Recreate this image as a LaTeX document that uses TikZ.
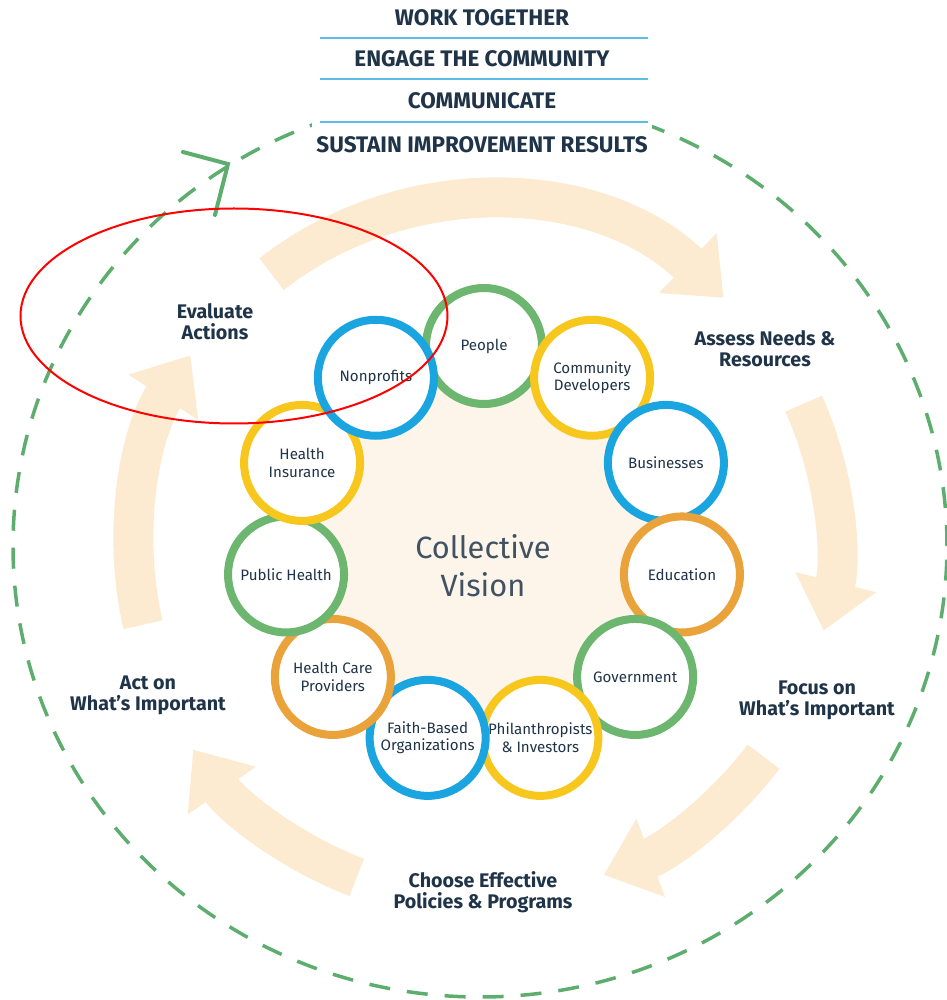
\documentclass[tikz,border=0pt]{standalone}
\usepackage{fontspec}
\setmainfont{Fira Sans}
\usepackage{xcolor}
\usetikzlibrary{arrows.meta,positioning,calc}

\definecolor{ink}{HTML}{1F3448}
\definecolor{ringgreen}{HTML}{6CB66F}
\definecolor{ringblue}{HTML}{1BA5E0}
\definecolor{ringyellow}{HTML}{F7C71E}
\definecolor{ringorange}{HTML}{E9A33A}
\definecolor{dashgreen}{HTML}{5DAE6E}
\definecolor{ruleblue}{HTML}{5CBDE5}
\definecolor{peach}{HTML}{FCEAD1}
\definecolor{cream}{HTML}{FDF4EA}

\begin{document}
\begin{tikzpicture}[x=0.2mm, y=0.2mm,
    member/.style={circle, draw, line width=1.6mm, fill=white, minimum size=23.2mm,
        inner sep=0pt, align=center, text=ink, font=\fontsize{8.6}{10}\selectfont},
    phase/.style={text=ink, align=center, font=\bfseries\fontsize{11.2}{11.8}\selectfont},
    motto/.style={text=ink, font=\bfseries\fontsize{12.8}{14}\selectfont},
    rule/.style={ruleblue, line width=0.4mm},
    band/.style={peach, line width=8mm, -{Triangle[length=10mm, width=16mm]}},
    loop/.style={dashgreen, line width=0.7mm, dash pattern=on 4.2mm off 3.4mm},
    chevron/.style={dashgreen, line width=0.8mm, line cap=round}]
    \useasboundingbox (-484,-454) rectangle (462,546);

    % Centre
    \fill[cream] (0,0) circle (205);

    % Cycle arrows
    \draw[band] (128:345) arc (128:46:345);
    \draw[band] (24:350) arc (24:-14:350);
    \draw[band] (-37:350) arc (-37:-70:350);
    \draw[band] (-111:355) arc (-111:-145:355);
    \draw[band] (193:350) arc (193:147:350);

    % Dashed loop
    \draw[loop] (-4,0) ellipse (467 and 451);
    \coordinate (tip) at (-256,382);
    \draw[chevron] (-301,394) -- (tip) -- (-269,331);

    % Principles
    \fill[white] (-172,405) rectangle (168,546);
    \node[motto] (work) at (-2,528) {WORK TOGETHER};
    \node[motto] (engage) at (-2,487) {ENGAGE THE COMMUNITY};
    \node[motto] (talk) at (-2,445) {COMMUNICATE};
    \node[motto] (sustain) at (-2,401) {SUSTAIN IMPROVEMENT RESULTS};
    \draw[rule] (-164,508) -- (164,508);
    \draw[rule] (-164,467) -- (164,467);
    \draw[rule] (-164,424) -- (164,424);

    % Steps
    \node[phase] (evaluate) at (-269,224) {Evaluate\\Actions};
    \node[phase] (assess) at (281,197) {Assess Needs \&\\Resources};
    \node[phase] (focus) at (333,-154) {Focus on\\What's Important};
    \node[phase] (choose) at (-1,-346) {Choose Effective\\Policies \& Programs};
    \node[phase] (actnow) at (-336,-149) {Act on\\What's Important};

    % Partners
    \foreach \name/\txt/\col [count=\i from 0] in {
        people/People/ringgreen,
        commdev/{Community\\Developers}/ringyellow,
        business/Businesses/ringblue,
        education/Education/ringorange,
        government/Government/ringgreen,
        investors/{Philanthropists\\\& Investors}/ringyellow,
        faith/{Faith-Based\\Organizations}/ringblue,
        providers/{Health Care\\Providers}/ringorange,
        publichealth/{Public Health}/ringgreen,
        insurance/{Health\\Insurance}/ringyellow,
        nonprofits/Nonprofits/ringblue}
        \node[member, draw=\col] (\name) at ({90-\i*360/11}:200) {\txt};

    \node[align=center, text=ink!85, font=\fontsize{17.5}{21.6}\selectfont] (vision) at (-1,-20) {Collective\\Vision};

    % Highlight
    \draw[red, line width=0.4mm] (-250,230) ellipse (213.5 and 107.5);
\end{tikzpicture}
\end{document}
